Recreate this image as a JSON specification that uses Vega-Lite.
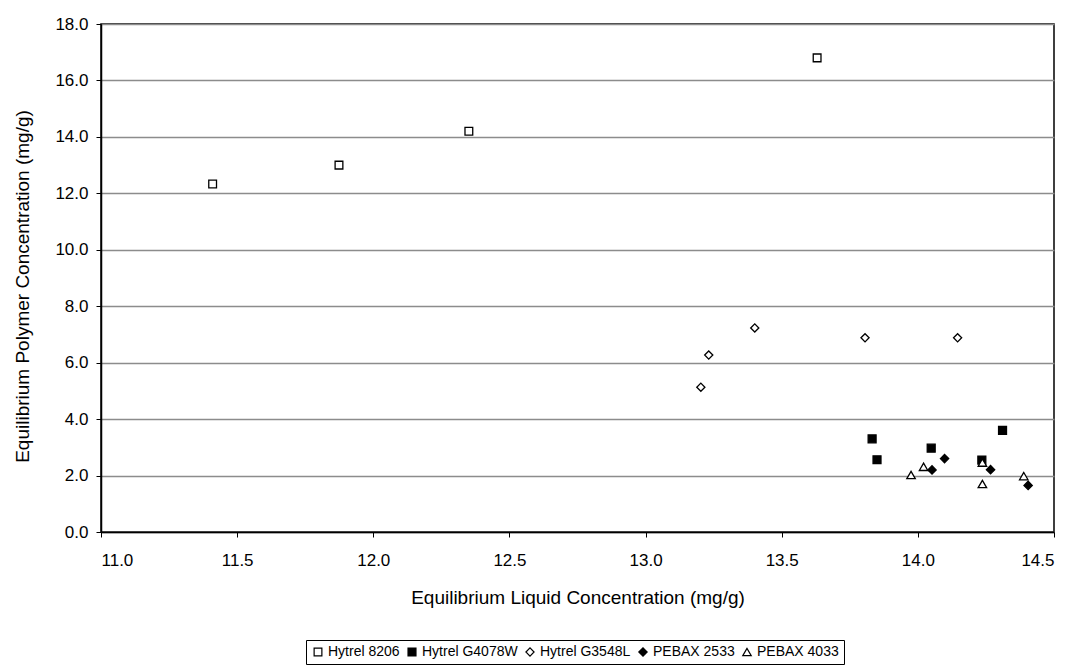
{
  "$schema": "https://vega.github.io/schema/vega-lite/v6.json",
  "width": 953,
  "height": 508,
  "autosize": "none",
  "padding": {"left": 101, "top": 24, "right": 24, "bottom": 136},
  "background": "white",
  "config": {
    "font": "Liberation Sans",
    "view": {"stroke": "black", "strokeWidth": 1.5},
    "axis": {
      "labelFont": "Liberation Sans",
      "titleFont": "Liberation Sans",
      "labelFontSize": 17,
      "titleFontSize": 19,
      "titleFontWeight": "normal",
      "labelColor": "black",
      "titleColor": "black",
      "domainColor": "black",
      "domainWidth": 1.5,
      "tickColor": "black",
      "tickWidth": 1,
      "tickSize": 5
    }
  },
  "data": {
    "values": [
      {"series": "Hytrel 8206", "x": 11.41, "y": 12.33},
      {"series": "Hytrel 8206", "x": 11.874, "y": 13.0},
      {"series": "Hytrel 8206", "x": 12.351, "y": 14.2},
      {"series": "Hytrel 8206", "x": 13.63, "y": 16.8},
      {"series": "Hytrel G4078W", "x": 13.832, "y": 3.3},
      {"series": "Hytrel G4078W", "x": 13.85, "y": 2.56},
      {"series": "Hytrel G4078W", "x": 14.049, "y": 2.97},
      {"series": "Hytrel G4078W", "x": 14.235, "y": 2.55},
      {"series": "Hytrel G4078W", "x": 14.311, "y": 3.6},
      {"series": "Hytrel G3548L", "x": 13.203, "y": 5.13},
      {"series": "Hytrel G3548L", "x": 13.232, "y": 6.27},
      {"series": "Hytrel G3548L", "x": 13.401, "y": 7.23},
      {"series": "Hytrel G3548L", "x": 13.806, "y": 6.88},
      {"series": "Hytrel G3548L", "x": 14.146, "y": 6.88},
      {"series": "PEBAX 2533", "x": 14.052, "y": 2.2},
      {"series": "PEBAX 2533", "x": 14.098, "y": 2.6},
      {"series": "PEBAX 2533", "x": 14.267, "y": 2.21},
      {"series": "PEBAX 2533", "x": 14.405, "y": 1.65},
      {"series": "PEBAX 4033", "x": 13.975, "y": 2.02},
      {"series": "PEBAX 4033", "x": 14.021, "y": 2.31},
      {"series": "PEBAX 4033", "x": 14.237, "y": 2.46},
      {"series": "PEBAX 4033", "x": 14.237, "y": 1.7},
      {"series": "PEBAX 4033", "x": 14.389, "y": 1.98}
    ]
  },
  "mark": {"type": "point", "filled": true, "stroke": "black", "strokeWidth": 1.3, "opacity": 1},
  "encoding": {
    "x": {
      "field": "x",
      "type": "quantitative",
      "scale": {"domain": [11, 14.5], "nice": false, "zero": false},
      "axis": {
        "title": "Equilibrium Liquid Concentration (mg/g)",
        "values": [11, 11.5, 12, 12.5, 13, 13.5, 14, 14.5],
        "format": ".1f",
        "grid": false,
        "labelPadding": 15,
        "titleY": 56,
        "titleBaseline": "top"
      }
    },
    "y": {
      "field": "y",
      "type": "quantitative",
      "scale": {"domain": [0, 18], "nice": false},
      "axis": {
        "title": "Equilibrium Polymer Concentration (mg/g)",
        "values": [0, 2, 4, 6, 8, 10, 12, 14, 16, 18],
        "format": ".1f",
        "grid": true,
        "gridColor": "#8c8c8c",
        "gridWidth": 1.3,
        "labelPadding": 8,
        "titleX": -79,
        "titleY": 262,
        "titleAngle": -90,
        "titleBaseline": "middle",
        "titleAlign": "center"
      }
    },
    "color": {
      "field": "series",
      "type": "nominal",
      "scale": {
        "domain": ["Hytrel 8206", "Hytrel G4078W", "Hytrel G3548L", "PEBAX 2533", "PEBAX 4033"],
        "range": ["white", "black", "white", "black", "white"]
      },
      "legend": {
        "title": null,
        "orient": "none",
        "legendX": 205,
        "legendY": 616,
        "direction": "horizontal",
        "columns": 5,
        "labelFont": "Liberation Sans",
        "labelFontSize": 14,
        "labelColor": "black",
        "symbolSize": 30,
        "symbolStrokeColor": "black",
        "symbolStrokeWidth": 1.2,
        "symbolOffset": 0,
        "labelOffset": 3,
        "columnPadding": 5,
        "padding": 5,
        "strokeColor": "black",
        "labelLimit": 300,
        "encode": {"symbols": {"update": {"stroke": {"value": "black"}, "strokeWidth": {"value": 1.2}}}}
      }
    },
    "shape": {
      "field": "series",
      "type": "nominal",
      "scale": {
        "domain": ["Hytrel 8206", "Hytrel G4078W", "Hytrel G3548L", "PEBAX 2533", "PEBAX 4033"],
        "range": ["square", "square", "diamond", "diamond", "triangle-up"]
      }
    },
    "size": {
      "field": "series",
      "type": "nominal",
      "scale": {
        "domain": ["Hytrel 8206", "Hytrel G4078W", "Hytrel G3548L", "PEBAX 2533", "PEBAX 4033"],
        "range": [60, 72, 72, 110, 90]
      },
      "legend": null
    }
  }
}
